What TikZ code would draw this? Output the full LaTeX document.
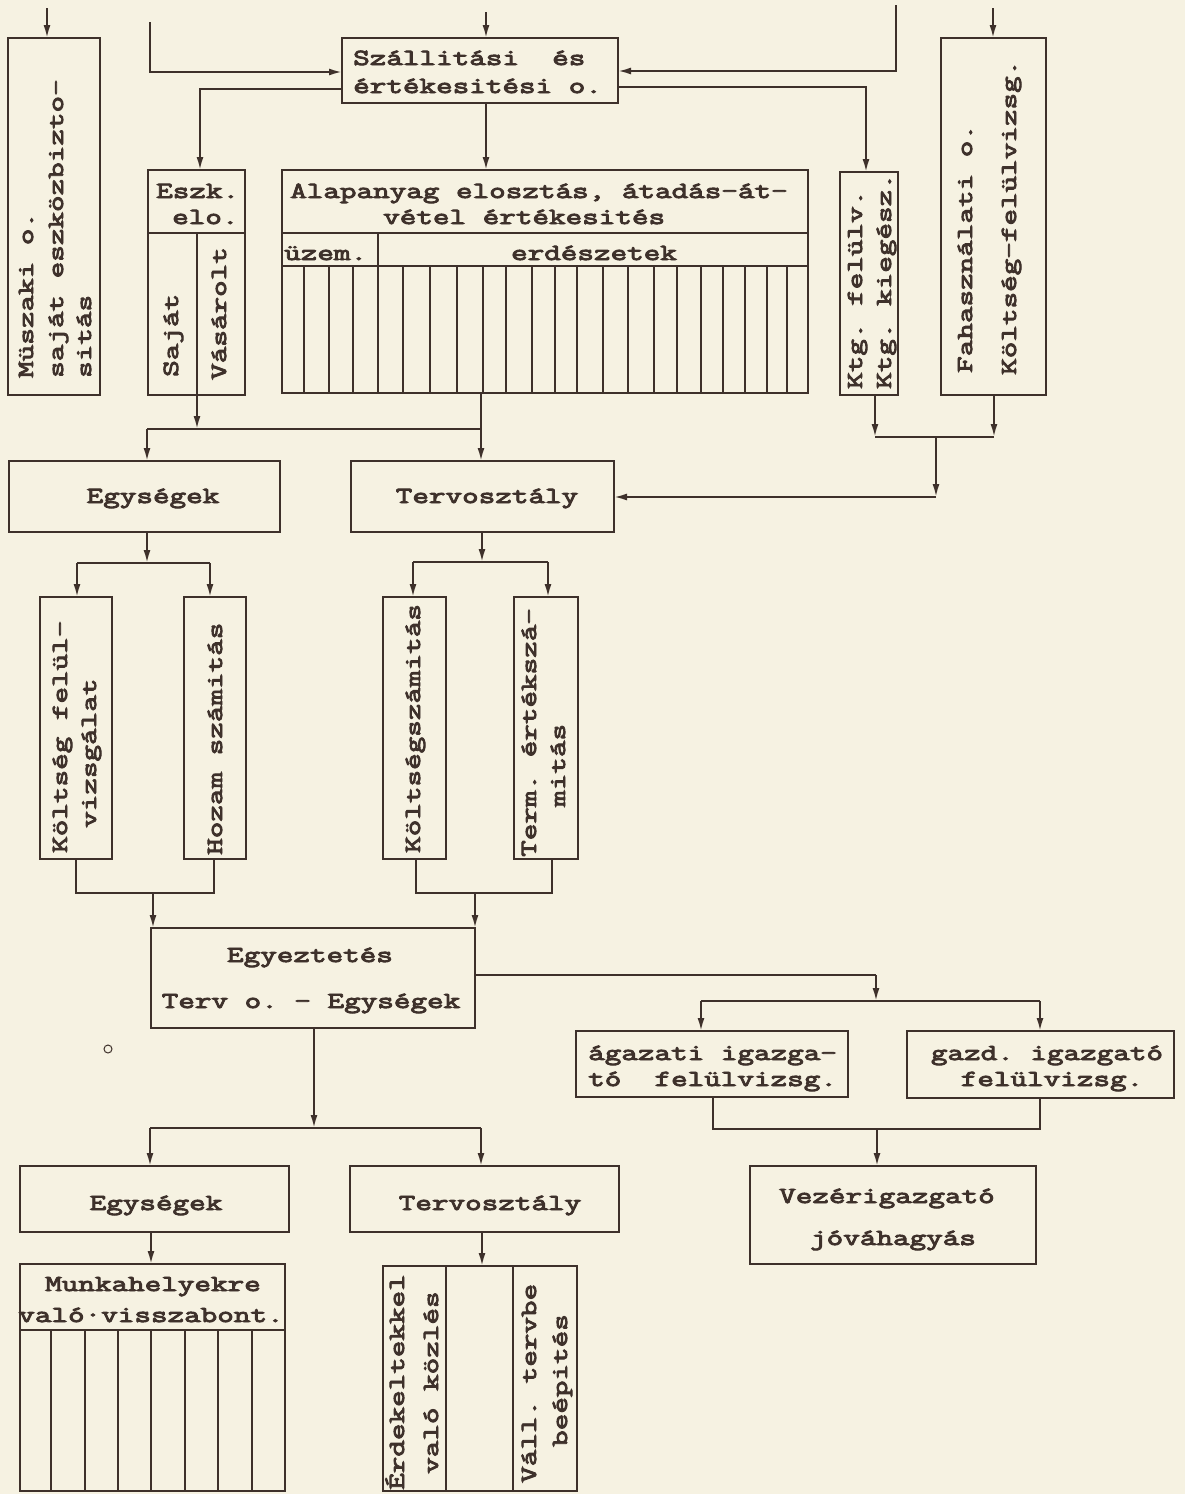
\documentclass[tikz,border=0pt]{standalone}
\usepackage{fontspec}
\setmonofont{Latin Modern Mono}[FakeBold=4,FakeStretch=1.40]
\usetikzlibrary{arrows.meta}
\definecolor{ink}{HTML}{3E312B}
\definecolor{paper}{HTML}{F6F2E2}
\newcommand\mkbox[5]{\node[boxst,anchor=north west,minimum width={#4-#2},minimum height={#5-#3}] (#1) at (#2,#3) {};}
\begin{document}
\begin{tikzpicture}[x=1pt,y=-1pt,
  boxst/.style={draw=ink,line width=2.8pt,inner sep=0pt,outer sep=0pt},
  ln/.style={draw=ink,line width=2pt},
  arr/.style={ln,-{Latex[length=13pt,width=7pt]}},
  grid/.style={draw=ink,line width=1.8pt},
  txt/.style={text=ink,inner sep=0pt,font=\ttfamily\fontsize{23}{25}\selectfont},
  lt/.style={txt,anchor=base west},
  ct/.style={txt,anchor=base},
  rt/.style={txt,rotate=90,anchor=base west},
]
\fill[paper] (0,0) rectangle (1185,1494);
\useasboundingbox (0,0) rectangle (1185,1494);

% ---------- boxes
\mkbox{muszaki}{8}{38}{100}{395}
\mkbox{szall}{342}{38}{618}{103}
\mkbox{fahasz}{941}{38}{1046}{395}
\mkbox{eszk}{148}{170}{245}{395}
\mkbox{alap}{282}{170}{808}{393}
\mkbox{ktg}{840}{172}{898}{395}
\mkbox{egys}{9}{461}{280}{532}
\mkbox{tervA}{351}{461}{614}{532}
\mkbox{koltfel}{40}{597}{112}{859}
\mkbox{hozam}{184}{597}{246}{859}
\mkbox{koltszam}{383}{597}{446}{859}
\mkbox{term}{514}{597}{578}{859}
\mkbox{egyez}{151}{928}{475}{1028}
\mkbox{agaz}{576}{1031}{848}{1097}
\mkbox{gazd}{907}{1031}{1174}{1098}
\mkbox{vezer}{750}{1166}{1036}{1264}
\mkbox{egysB}{20}{1166}{289}{1232}
\mkbox{tervB}{350}{1166}{619}{1232}
\mkbox{munka}{20}{1264}{285}{1491}
\mkbox{kozl}{383}{1266}{577}{1491}

% ---------- inner rulings
\draw[grid] (148,233) -- (245,233);
\draw[grid] (197,233) -- (197,395);
\draw[grid] (282,233) -- (808,233);
\draw[grid] (282,266) -- (808,266);
\draw[grid] (378,233) -- (378,393);
\foreach \x in {304,329,353,403,430,457,483,506,532,555,577,603,628,654,677,701,723,745,767,787}
  \draw[grid] (\x,266) -- (\x,393);
\draw[grid] (20,1330) -- (285,1330);
\foreach \x in {51,85,118,151,185,218,252}
  \draw[grid] (\x,1330) -- (\x,1491);
\draw[grid] (446,1266) -- (446,1491);
\draw[grid] (513,1266) -- (513,1491);

% ---------- connectors, top
\coordinate (inM) at (47,8);
\draw[arr] (inM) -- (inM |- muszaki.north);
\coordinate (inS) at (486,12);
\draw[arr] (inS) -- (inS |- szall.north);
\coordinate (inF) at (993,8);
\draw[arr] (inF) -- (inF |- fahasz.north);
\coordinate (feedL) at (150,22);
\coordinate (feedLc) at (150,72);
\draw[arr] (feedL) -- (feedLc) -- (feedLc -| szall.west);
\coordinate (feedR) at (896,5);
\coordinate (feedRc) at (896,71);
\draw[arr] (feedR) -- (feedRc) -- (feedRc -| szall.east);
\coordinate (oL) at (200,89);
\draw[arr] (oL -| szall.west) -- (oL) -- (oL |- eszk.north);
\coordinate (oR) at (866,87);
\draw[arr] (oR -| szall.east) -- (oR) -- (oR |- ktg.north);
\draw[arr] (szall.south -| inS) -- (inS |- alap.north);

% ---------- row 1 -> row 2
\coordinate (h1) at (197,429);
\coordinate (h1L) at (147,429);
\coordinate (h1R) at (481,429);
\draw[arr] (h1 |- eszk.south) -- (h1);
\draw[ln] (h1L) -- (h1R);
\draw[arr] (h1L) -- (h1L |- egys.north);
\draw[arr] (h1R |- alap.south) -- (h1R |- tervA.north);
\coordinate (h2L) at (875,437);
\coordinate (h2R) at (994,437);
\coordinate (h2M) at (936,437);
\coordinate (h2D) at (936,497);
\draw[arr] (h2L |- ktg.south) -- (h2L);
\draw[arr] (h2R |- fahasz.south) -- (h2R);
\draw[ln] (h2L) -- (h2R);
\draw[arr] (h2M) -- (h2D);
\draw[arr] (h2D) -- (h2D -| tervA.east);

% ---------- row 2 -> row 3
\coordinate (g1) at (147,563);
\coordinate (g1L) at (77,563);
\coordinate (g1R) at (210,563);
\draw[arr] (egys.south -| g1) -- (g1);
\draw[ln] (g1L) -- (g1R);
\draw[arr] (g1L) -- (g1L |- koltfel.north);
\draw[arr] (g1R) -- (g1R |- hozam.north);
\coordinate (t1) at (482,562);
\coordinate (t1L) at (413,562);
\coordinate (t1R) at (548,562);
\draw[arr] (tervA.south -| t1) -- (t1);
\draw[ln] (t1L) -- (t1R);
\draw[arr] (t1L) -- (t1L |- koltszam.north);
\draw[arr] (t1R) -- (t1R |- term.north);

% ---------- row 3 -> Egyeztetés
\coordinate (k1L) at (76,893);
\coordinate (k1R) at (214,893);
\coordinate (k1M) at (153,893);
\draw[ln] (koltfel.south -| k1L) -- (k1L) -- (k1R) -- (hozam.south -| k1R);
\draw[arr] (k1M) -- (k1M |- egyez.north);
\coordinate (k2L) at (416,893);
\coordinate (k2R) at (552,893);
\coordinate (k2M) at (475,893);
\draw[ln] (koltszam.south -| k2L) -- (k2L) -- (k2R) -- (term.south -| k2R);
\draw[arr] (k2M) -- (k2M |- egyez.north);

% ---------- Egyeztetés -> igazgatók -> Vezérigazgató
\coordinate (e1) at (876,975);
\coordinate (e1D) at (876,1001);
\coordinate (e1L) at (701,1001);
\coordinate (e1R) at (1040,1001);
\draw[ln] (egyez.east |- e1) -- (e1);
\draw[arr] (e1) -- (e1D);
\draw[ln] (e1L) -- (e1R);
\draw[arr] (e1L) -- (e1L |- agaz.north);
\draw[arr] (e1R) -- (e1R |- gazd.north);
\coordinate (v1L) at (713,1129);
\coordinate (v1R) at (1040,1129);
\coordinate (v1M) at (877,1129);
\draw[ln] (agaz.south -| v1L) -- (v1L) -- (v1R) -- (gazd.south -| v1R);
\draw[arr] (v1M) -- (v1M |- vezer.north);

% ---------- Egyeztetés -> row 5 -> row 6
\coordinate (d1) at (314,1128);
\coordinate (d1L) at (150,1128);
\coordinate (d1R) at (481,1128);
\draw[arr] (egyez.south -| d1) -- (d1);
\draw[ln] (d1L) -- (d1R);
\draw[arr] (d1L) -- (d1L |- egysB.north);
\draw[arr] (d1R) -- (d1R |- tervB.north);
\coordinate (q1) at (151,0);
\coordinate (q2) at (482,0);
\draw[arr] (egysB.south -| q1) -- (q1 |- munka.north);
\draw[arr] (tervB.south -| q2) -- (q2 |- kozl.north);

% ---------- texts
\node[rt] (tm1) at (33,378) {Müszaki o.};
\node[rt] (tm2) at (63,378) {saját eszközbizto-};
\node[rt] (tm3) at (91,378) {sitás};
\node[lt] (ts1) at (353,65) {Szállitási\ \ és};
\node[lt] (ts2) at (353,93) {értékesitési o.};
\node[rt] (tf1) at (972,373) {Fahasználati o.};
\node[rt] (tf2) at (1016,375) {Költség-felülvizsg.};
\node[lt] (te1) at (156,198) {Eszk.};
\node[lt] (te2) at (172,224) {elo.};
\node[rt] (te3) at (178,377) {Saját};
\node[rt] (te4) at (226,380) {Vásárolt};
\node[lt] (ta1) at (290,198) {Alapanyag elosztás, átadás-át-};
\node[lt] (ta2) at (383,224) {vétel értékesités};
\node[lt] (ta3) at (284,260) {üzem.};
\node[ct] (ta4) at (594,260) {erdészetek};
\node[rt] (tk1) at (862,389) {Ktg. felülv.};
\node[rt] (tk2) at (891,389) {Ktg. kiegész.};
\node[ct] (tE1) at (153,503) {Egységek};
\node[ct] (tT1) at (487,503) {Tervosztály};
\node[rt] (tc1) at (67,853) {Költség felül-};
\node[rt] (tc2) at (96,828) {vizsgálat};
\node[rt] (th1) at (222,855) {Hozam számitás};
\node[rt] (tks) at (420,853) {Költségszámitás};
\node[rt] (tt1) at (536,857) {Term. értékszá-};
\node[rt] (tt2) at (565,807) {mitás};
\node[ct] (tg1) at (310,962) {Egyeztetés};
\node[ct] (tg2) at (311,1008) {Terv o. - Egységek};
\node[lt] (tag1) at (588,1060) {ágazati igazga-};
\node[lt] (tag2) at (588,1086) {tó\ \ felülvizsg.};
\node[ct] (tgz1) at (1047,1060) {gazd. igazgató};
\node[ct] (tgz2) at (1052,1086) {felülvizsg.};
\node[ct] (tv1) at (887,1203) {Vezérigazgató};
\node[ct] (tv2) at (893,1245) {jóváhagyás};
\node[ct] (tE2) at (156,1210) {Egységek};
\node[ct] (tT2) at (490,1210) {Tervosztály};
\node[ct] (tmu1) at (153,1291) {Munkahelyekre};
\node[ct] (tmu2) at (151,1322) {való·visszabont.};
\node[rt] (tke1) at (404,1490) {Érdekeltekkel};
\node[rt] (tke2) at (438,1474) {való közlés};
\node[rt] (tkv1) at (536,1483) {Váll. tervbe};
\node[rt] (tkv2) at (567,1447) {beépités};
\node[draw=ink,circle,line width=1pt,inner sep=0pt,minimum size=8pt] (stray) at (108,1049) {};
\end{tikzpicture}
\end{document}
